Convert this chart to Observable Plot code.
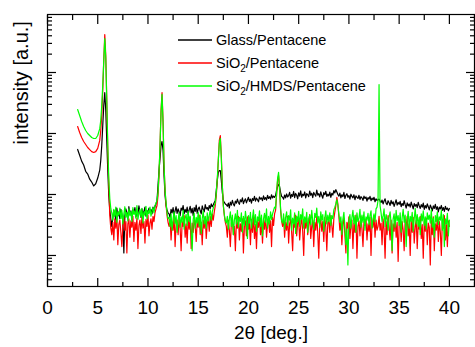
<!DOCTYPE html>
<html><head><meta charset="utf-8">
<script src="https://cdn.jsdelivr.net/npm/d3@7"></script>
<script src="https://cdn.jsdelivr.net/npm/@observablehq/plot@0.6"></script>
<style>body{margin:0;background:#fff}</style>
</head><body><div id="chart"></div>
<script>
const twoTheta = [
3.0,3.2,3.4,3.6,3.8,4.0,4.2,4.4,4.6,4.8,5.0,5.2,
5.3,5.4,5.5,5.6,5.7,5.8,5.9,6.0,6.1,6.2,6.3,
6.4,6.5,6.6,6.7,6.8,6.9,7.0,7.1,7.2,7.3,
7.4,7.5,7.6,7.7,7.8,7.9,8.0,8.1,8.2,8.3,
8.4,8.5,8.6,8.7,8.8,8.9,9.0,9.1,9.2,9.3,
9.4,9.5,9.6,9.7,9.8,9.9,10.0,10.1,10.2,10.3,
10.4,10.5,10.6,10.7,10.8,
10.9,11.0,11.1,11.2,11.3,11.4,11.5,11.6,11.7,11.8,11.9,12.0,
12.1,12.2,12.3,12.4,12.5,12.6,12.7,12.8,12.9,13.0,
13.1,13.2,13.3,13.4,13.5,13.6,13.7,13.8,13.9,14.0,
14.1,14.2,14.3,14.4,14.5,14.6,14.7,14.8,14.9,15.0,
15.1,15.2,15.3,15.4,15.5,15.6,15.7,15.8,15.9,16.0,
16.1,16.2,16.3,16.4,16.5,16.6,
16.7,16.8,16.9,17.0,17.1,17.2,17.3,17.4,17.5,17.6,17.7,
17.8,17.9,
18.0,18.1,18.2,18.3,18.4,18.5,18.6,18.7,18.8,18.9,
19.0,19.1,19.2,19.3,19.4,19.5,19.6,19.7,19.8,19.9,
20.0,20.1,20.2,20.3,20.4,20.5,20.6,20.7,20.8,20.9,
21.0,21.1,21.2,21.3,21.4,21.5,21.6,21.7,21.8,21.9,
22.0,22.1,22.2,22.3,22.4,22.5,22.6,
22.7,22.8,22.9,23.0,23.1,23.2,23.3,
23.4,23.5,23.6,23.7,23.8,23.9,
24.0,24.1,24.2,24.3,24.4,24.5,24.6,24.7,24.8,24.9,
25.0,25.1,25.2,25.3,25.4,25.5,25.6,25.7,25.8,25.9,
26.0,26.1,26.2,26.3,26.4,26.5,26.6,26.7,26.8,26.9,
27.0,27.1,27.2,27.3,27.4,27.5,27.6,27.7,27.8,27.9,
28.0,28.1,28.2,28.3,28.4,28.5,28.6,28.7,28.8,28.9,
29.0,29.1,29.2,29.3,29.4,29.5,29.6,29.7,29.8,29.9,
30.0,30.1,30.2,30.3,30.4,30.5,30.6,30.7,30.8,30.9,
31.0,31.1,31.2,31.3,31.4,31.5,31.6,31.7,31.8,31.9,
32.0,32.1,32.2,32.3,32.4,32.5,32.6,32.7,32.8,
32.9,33.0,33.1,
33.2,33.3,33.4,33.5,33.6,33.7,33.8,33.9,
34.0,34.1,34.2,34.3,34.4,34.5,34.6,34.7,34.8,34.9,
35.0,35.1,35.2,35.3,35.4,35.5,35.6,35.7,35.8,35.9,
36.0,36.1,36.2,36.3,36.4,36.5,36.6,36.7,36.8,36.9,
37.0,37.1,37.2,37.3,37.4,37.5,37.6,37.7,37.8,37.9,
38.0,38.1,38.2,38.3,38.4,38.5,38.6,38.7,38.8,38.9,
39.0,39.1,39.2,39.3,39.4,39.5,39.6,39.7,39.8,39.9,
40.0
];
const glass = [
547,440,352,305,240,216,178,160,138,150,186,250,
360,635,1350,2880,4700,2380,770,247,96,55,40,
30,42,55,47,38,60,44,52,40,57,
48,36,11,45,58,50,41,63,47,54,
39,56,49,61,43,52,46,65,50,42,
58,47,53,62,44,55,49,60,51,57,
48,62,55,64,70,
80,140,247,390,635,740,525,205,96,66,55,50,
48,42,57,50,61,46,54,63,49,58,
52,45,60,55,66,48,57,51,62,47,
56,64,50,59,45,61,53,67,49,58,
62,54,48,65,57,52,68,58,61,55,
66,59,70,63,68,74,
80,117,170,230,247,247,170,108,80,74,70,
68,64,
72,60,75,67,80,70,65,78,72,84,
74,69,82,76,88,71,79,85,73,81,
90,77,84,72,86,80,93,78,87,82,
76,91,84,88,79,95,83,89,81,97,
86,92,84,99,88,94,90,
96,117,135,146,135,108,93,
90,84,98,88,102,91,
96,108,87,100,93,112,89,104,97,85,
106,94,115,90,101,96,110,88,103,99,
92,114,97,105,89,108,100,94,118,98,
103,91,110,96,87,107,99,113,93,101,
95,109,90,104,98,116,106,120,110,100,
94,105,88,99,92,108,86,97,103,90,
96,84,101,93,88,99,82,95,90,86,
97,83,92,88,80,94,86,91,78,89,
84,93,79,87,82,90,76,85,80,
82,84,78,
74,81,70,78,85,72,68,79,
73,66,80,70,76,64,72,82,67,74,
69,77,63,71,66,79,68,60,73,65,
70,62,75,66,58,71,64,69,61,74,
65,59,68,62,72,57,66,60,70,63,
56,67,61,54,65,59,69,57,63,52,
62,58,66,55,61,53,64,57,60,54,
59
];
const sio2 = [
1300,1040,860,740,660,590,545,505,489,505,570,770,
1120,1980,5080,15700,42000,19000,3480,525,140,45,28,
22,35,18,40,28,45,15,32,38,24,
14,30,42,26,36,11,33,40,20,37,
29,44,17,35,26,41,13,31,38,23,
43,28,36,16,39,30,46,21,34,40,
27,44,36,50,58,
66,96,205,635,2380,4700,1630,299,117,66,45,35,
30,40,18,35,26,44,14,32,38,22,
41,28,12,36,30,45,20,33,16,39,
27,42,13,34,24,40,31,17,37,29,
46,22,35,15,38,28,43,19,33,40,
25,44,30,48,38,52,
66,96,170,360,770,927,435,140,66,45,35,
30,20,
38,26,14,34,42,22,30,12,36,28,
44,18,33,25,40,11,31,37,21,43,
27,35,15,39,24,46,19,32,13,36,
29,41,22,34,16,38,27,45,20,33,
40,24,37,14,42,31,48,
55,96,170,205,117,55,37,
30,42,20,35,26,44,
16,33,40,24,12,37,29,46,21,34,
39,18,31,43,25,10,36,28,41,22,
33,47,19,30,38,14,35,26,44,23,
9,32,40,25,36,17,42,29,12,34,
38,24,45,31,20,40,52,66,90,70,
44,26,36,15,33,41,22,11,35,28,
43,19,31,38,13,34,24,46,9,30,
37,21,44,27,14,36,31,40,18,33,
25,42,10,35,29,45,20,38,26,
30,44,26,
34,15,40,27,9,36,22,45,
30,18,38,11,33,25,43,20,35,8,
31,41,17,36,26,12,39,28,44,21,
33,10,37,24,42,16,30,38,13,35,
27,44,19,32,9,36,25,41,15,34,
29,7,38,22,43,12,33,26,40,17,
36,24,10,39,28,45,18,32,14,37,
30
];
const hmds = [
2470,1970,1570,1300,1120,1000,927,860,828,828,927,1200,
1630,2880,6100,15700,36000,17000,3480,635,183,86,59,
50,38,57,44,62,35,52,46,60,40,
55,33,48,63,42,51,37,58,45,53,
36,61,47,54,41,66,39,50,57,43,
59,34,52,46,64,40,55,48,62,44,
53,61,50,66,72,
80,108,230,635,2200,4370,1510,299,117,74,50,40,
42,30,48,26,40,52,33,45,24,38,
50,29,43,35,55,27,41,47,31,53,
36,44,25,12,39,49,28,42,34,51,
30,46,23,40,54,33,44,28,50,37,
45,56,38,52,60,66,
74,108,183,360,685,828,390,140,66,47,37,
34,44,
27,40,52,30,46,22,38,48,33,55,
29,42,36,50,24,44,31,53,38,19,
45,34,51,28,41,56,32,47,25,43,
37,54,30,46,21,40,49,35,58,28,
44,33,52,39,48,55,62,
59,108,183,230,127,59,37,
34,48,27,42,52,31,
45,38,56,26,41,33,50,23,44,36,
53,30,47,39,58,28,43,35,51,24,
40,46,32,55,37,27,49,42,60,34,
44,29,52,38,47,25,41,54,33,46,
36,50,31,45,40,56,62,70,82,66,
48,35,43,22,39,51,30,15,27,7,
38,47,28,42,55,33,45,24,50,36,
41,57,29,46,35,52,26,43,38,49,
32,45,54,28,40,48,36,58,62,
80,6350,66,
50,36,44,58,30,47,39,26,
43,52,33,12,40,48,29,55,37,45,
31,50,24,42,57,35,46,14,38,53,
28,44,36,51,25,40,59,33,47,30,
42,22,48,37,54,31,43,27,50,39,
46,34,56,29,41,20,45,36,52,32,
43,38,55,26,47,14,40,33,49,21,
38
];
const seriesNames = ["Glass/Pentacene", "SiO_2/Pentacene", "SiO_2/HMDS/Pentacene"];
const seriesColors = ["#000000", "#ff0000", "#00ff00"];
const xMajorTicks = [0, 5, 10, 15, 20, 25, 30, 35, 40];
const xMinorTicks = [2.5, 7.5, 12.5, 17.5, 22.5, 27.5, 32.5, 37.5, 42.5];
const yMajorTicks = [10, 100, 1000, 10000];
const yMinorTicks = [4,5,6,7,8,9,20,30,40,50,60,70,80,90,200,300,400,500,600,700,800,900,2000,3000,4000,5000,6000,7000,8000,9000,20000,30000,40000,50000,60000,70000,80000];
const xTitle = "2θ [deg.]";
const yTitle = "intensity [a.u.]";

const rows = twoTheta.map((x, i) => ({x, glass: glass[i], sio2: sio2[i], hmds: hmds[i]}));
const blank = () => "";
const font = "'Liberation Sans', Arial, Helvetica, sans-serif";

const svg = Plot.plot({
  width: 475, height: 347,
  marginLeft: 47, marginRight: 1, marginTop: 14, marginBottom: 61,
  style: {fontFamily: font, fontSize: "19px", background: "#fff", color: "#000", overflow: "visible"},
  x: {domain: [0, 42.5]},
  y: {type: "log", domain: [3.1, 89300]},
  marks: [
    Plot.line(rows, {x: "x", y: "glass", stroke: seriesColors[0], strokeWidth: 1.2}),
    Plot.line(rows, {x: "x", y: "sio2", stroke: seriesColors[1], strokeWidth: 1.2}),
    Plot.line(rows, {x: "x", y: "hmds", stroke: seriesColors[2], strokeWidth: 1.2}),
    Plot.axisX({anchor: "bottom", ticks: xMajorTicks, tickSize: -8, tickFormat: blank, label: null, strokeWidth: 1.2}),
    Plot.axisX({anchor: "bottom", ticks: xMinorTicks, tickSize: -4, tickFormat: blank, label: null, strokeWidth: 1.2}),
    Plot.axisX({anchor: "top", ticks: xMajorTicks, tickSize: -9, tickFormat: blank, label: null, strokeWidth: 1.2}),
    Plot.axisX({anchor: "top", ticks: xMinorTicks, tickSize: -5, tickFormat: blank, label: null, strokeWidth: 1.2}),
    Plot.axisX({anchor: "bottom", ticks: xMajorTicks, tickSize: 0, tickPadding: 14, tickFormat: d => String(d), label: null, fontSize: 19}),
    Plot.axisY({anchor: "left", ticks: yMajorTicks, tickSize: -9, tickFormat: blank, label: null, strokeWidth: 1.2}),
    Plot.axisY({anchor: "left", ticks: yMinorTicks, tickSize: -5, tickFormat: blank, label: null, strokeWidth: 1.2}),
    Plot.axisY({anchor: "right", ticks: yMajorTicks, tickSize: -9, tickFormat: blank, label: null, strokeWidth: 1.2}),
    Plot.axisY({anchor: "right", ticks: yMinorTicks, tickSize: -5, tickFormat: blank, label: null, strokeWidth: 1.2}),
    Plot.frame({stroke: "#000", strokeWidth: 1.2}),
    Plot.text([xTitle], {frameAnchor: "bottom", dx: 10, dy: 52, lineAnchor: "bottom", fontSize: 19, text: d => d}),
    Plot.text([yTitle], {frameAnchor: "left", rotate: -90, dx: -25.6, dy: -6, lineAnchor: "middle", fontSize: 20, text: d => d})
  ]
});

// legend
const lg = d3.select(svg).append("g").attr("font-family", font).attr("font-size", 14.5).attr("text-anchor", "start");
seriesNames.forEach((name, i) => {
  const yy = 40 + i * 23;
  lg.append("line").attr("x1", 178).attr("x2", 212).attr("y1", yy).attr("y2", yy)
    .attr("stroke", seriesColors[i]).attr("stroke-width", 1.5);
  const t = lg.append("text").attr("x", 216).attr("y", yy + 5.2).attr("fill", "#000").attr("text-anchor", "start");
  const parts = name.split("_");
  t.append("tspan").text(parts[0]);
  if (parts.length > 1) {
    t.append("tspan").attr("font-size", 10).attr("dy", 4).text(parts[1].slice(0, 1));
    t.append("tspan").attr("dy", -4).text(parts[1].slice(1));
  }
});
document.getElementById("chart").appendChild(svg);
</script>
</body></html>
